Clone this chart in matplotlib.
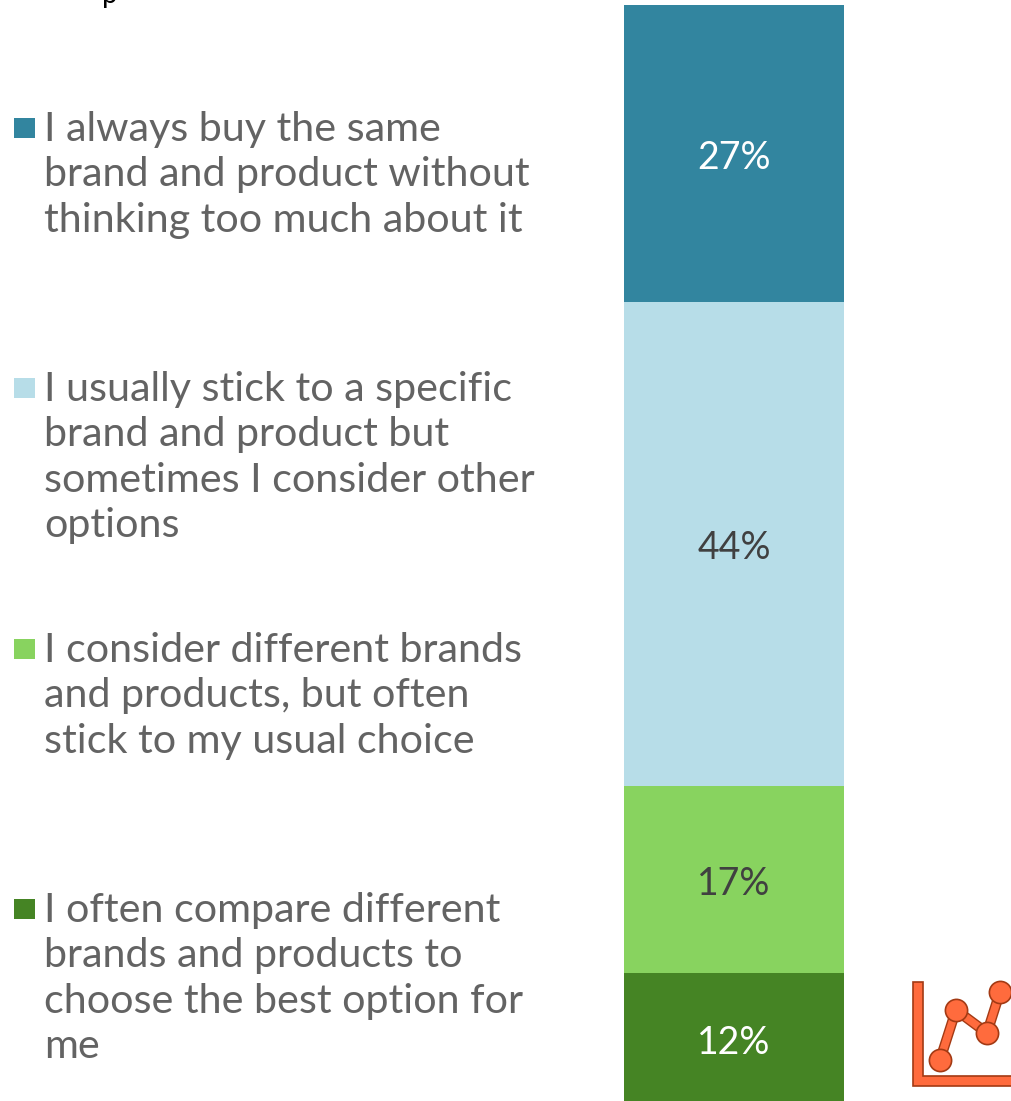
import matplotlib
matplotlib.use("Agg")
import matplotlib.pyplot as plt
from matplotlib.patches import Rectangle, Polygon

# Survey shares, top of the stack first
answers = [
    "I always buy the same\nbrand and product without\nthinking too much about it",
    "I usually stick to a specific\nbrand and product but\nsometimes I consider other\noptions",
    "I consider different brands\nand products, but often\nstick to my usual choice",
    "I often compare different\nbrands and products to\nchoose the best option for\nme",
]
shares = [27, 44, 17, 12]
bar_colors = ["#32859F", "#B7DDE8", "#88D35F", "#458424"]
value_colors = ["#FFFFFF", "#404040", "#404040", "#FFFFFF"]
answer_tops = [110, 370, 631, 891]

# Decorative trend icon vertices
icon_x = [940, 956, 987, 1000]
icon_y = [1060, 1010, 1033, 992]

W, H = 1012, 1101
TEXT = ["Lato", "DejaVu Sans"]
fig = plt.figure(figsize=(W / 100, H / 100), dpi=100, facecolor="white")

# Page-level layer in pixel coordinates
page = fig.add_axes([0, 0, 1, 1])
page.set_xlim(0, W)
page.set_ylim(H, 0)
page.axis("off")

# Stacked column; the last segment runs slightly past the page edge
ax = fig.add_axes([624 / W, -4 / H, 220 / W, 1100 / H])
ax.set_xlim(0, 1)
ax.set_ylim(0, 100)
ax.axis("off")
bottom = 100
for share, color, vcolor in zip(shares, bar_colors, value_colors):
    bottom -= share
    ax.bar(0.5, share, width=1, bottom=bottom, color=color, linewidth=0)
    ax.text(0.5, bottom + share / 2 - 0.4, f"{share}%", ha="center", va="center",
            color=vcolor, fontsize=27, family=TEXT)

# Legend entries
for label, color, top in zip(answers, bar_colors, answer_tops):
    page.add_patch(Rectangle((14, top + 8), 21, 20, color=color, linewidth=0))
    page.text(44, 111 + top - answer_tops[0], label, ha="left", va="top", color="#636363",
              fontsize=29.7, family=TEXT, linespacing=1.28)

# Descender of the clipped heading line
page.text(102, 3, "p", ha="left", va="baseline", color="black", fontsize=20, family=TEXT, clip_on=True)

# Trend icon
fill, edge = "#FF6B3D", "#A33A14"
page.add_patch(Polygon([(913.5, 982), (923, 982), (923, 1076), (1013, 1076), (1013, 1086), (913.5, 1086)],
                       closed=True, facecolor=fill, edgecolor=edge, linewidth=1.2))
page.plot(icon_x, icon_y, color=edge, linewidth=7.5, solid_joinstyle="miter")
page.plot(icon_x, icon_y, color=fill, linewidth=5.5, solid_joinstyle="miter")
page.plot(icon_x, icon_y, "o", markersize=16, markerfacecolor=fill, markeredgecolor=edge, markeredgewidth=1.2)

fig.savefig("out.png", dpi=100, facecolor="white")
